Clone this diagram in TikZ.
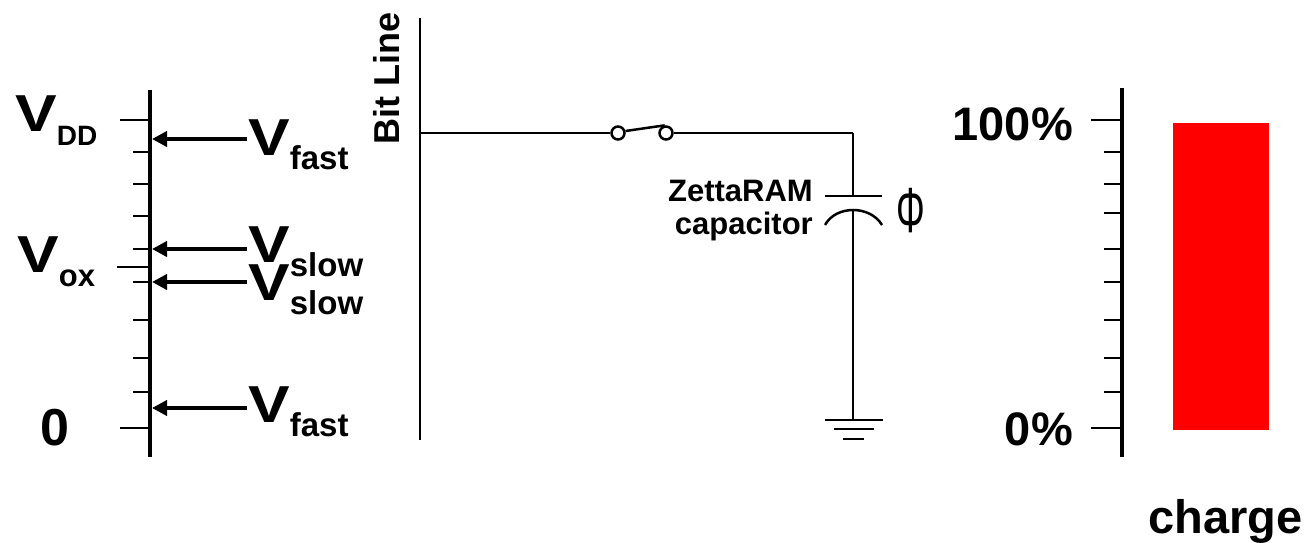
\documentclass[tikz,border=0pt]{standalone}
\usepackage{fontspec}
\usepackage{graphicx}
\setmainfont{Liberation Sans}
\usetikzlibrary{arrows.meta}

\tikzset{
  axis/.style={line width=4pt},
  tick/.style={line width=2.5pt},
  wire/.style={line width=2.5pt},
  arr/.style={line width=4pt,-{Triangle[length=15pt,width=15pt]}},
  lab/.style={anchor=base west,inner sep=0pt,font=\fontsize{52}{52}\selectfont\bfseries},
  pct/.style={anchor=base east,inner sep=0pt,font=\fontsize{47}{47}\selectfont\bfseries},
  pin/.style={circle,draw,line width=2.5pt,fill=white,minimum size=13pt,inner sep=0pt},
}
\newcommand{\bigV}{\scalebox{1.2}[1]{V}}
\newcommand{\sublo}[2]{\raisebox{-14pt}{\fontsize{#1}{#1}\selectfont #2}}

\begin{document}
\begin{tikzpicture}[x=1pt,y=-1pt]
    \useasboundingbox (0,0) rectangle (1306,543);

    % voltage scale
    \coordinate (vtop) at (150,90); \coordinate (vbot) at (150,457);
    \draw[axis] (vtop)--(vbot);
    \foreach \y in {152,184,216,249,282,320,358,392} \draw[tick] (133,\y)--(150,\y);
    \foreach \y in {120,428} \draw[tick] (120,\y)--(150,\y);
    \draw[tick] (117,267)--(150,267);

    \node[lab] (vdd) at (15,131) {\bigV\sublo{28}{DD}};
    \node[lab] (vox) at (17,272) {\bigV\sublo{31}{ox}};
    \node[lab] (zero) at (40,445) {0};

    \foreach \n/\y in {1/139,2/249,3/282,4/408} {
        \coordinate (s\n) at (247,\y); \coordinate (t\n) at (152,\y);
        \draw[arr] (s\n)--(t\n);
    }
    \node[lab] (vf1) at (248,155) {\bigV\sublo{33}{fast}};
    \node[lab] (vs1) at (248,262) {\bigV\sublo{33}{slow}};
    \node[lab] (vs2) at (248,300) {\bigV\sublo{33}{slow}};
    \node[lab] (vf2) at (248,422) {\bigV\sublo{33}{fast}};

    % cell
    \coordinate (bltop) at (420,18); \coordinate (blbot) at (420,440);
    \draw[wire] (bltop)--(blbot);
    \node[rotate=90,anchor=base west,inner sep=0pt,font=\fontsize{36}{36}\selectfont\bfseries] (bl) at (399,145) {Bit Line};

    \coordinate (j1) at (420,133); \coordinate (j2) at (853,133);
    \node[pin] (sa) at (618,133) {}; \node[pin] (sb) at (666,133) {};
    \draw[wire] (j1)--(sa.west); \draw[wire] (sb.east)--(j2);
    \draw[wire] (sa.15)--(sb.100);

    \coordinate (ct) at (853,196); \coordinate (cb) at (853,210); \coordinate (gnd) at (853,420);
    \draw[wire] (j2)--(ct); \draw[wire] (cb)--(gnd);
    \draw[wire] (825,196)--(882,196);
    \draw[wire] (825,225) .. controls (836,205) and (870,205) .. (882,225);
    \draw[wire] (825,420)--(883,420);
    \draw[wire] (834,429)--(874,429);
    \draw[wire] (843,439)--(864,439);

    \node[anchor=east,align=right,inner sep=0pt,font=\fontsize{31}{33}\selectfont\bfseries] (cap) at (813,211) {ZettaRAM\\capacitor};
    \node[inner sep=0pt] (phi) at (911,211) {\fontsize{58}{58}\selectfont\scalebox{0.62}[1.1]{Φ}};

    % charge scale
    \coordinate (ctop) at (1122,88); \coordinate (cbot) at (1122,457);
    \draw[axis] (ctop)--(cbot);
    \foreach \y in {152,184,213,249,282,320,358,392} \draw[tick] (1104,\y)--(1122,\y);
    \foreach \y in {120,428} \draw[tick] (1091,\y)--(1122,\y);
    \node[pct] (full) at (1073,140) {100\%};
    \node[pct] (empty) at (1073,445) {0\%};
    \fill[red] (1173,123) rectangle (1269,430);
    \node[pct] (chg) at (1303,533) {charge};
\end{tikzpicture}
\end{document}
